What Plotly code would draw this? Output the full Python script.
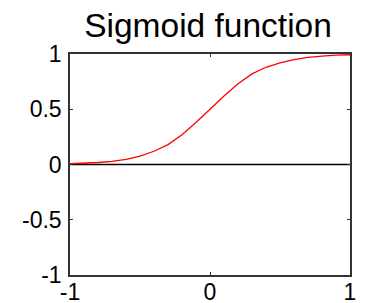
import plotly.graph_objects as go

# Data
x_vals = [-1.0, -0.9, -0.8, -0.7, -0.6, -0.5, -0.4, -0.3, -0.2, -0.1, 0.0,
          0.1, 0.2, 0.3, 0.4, 0.5, 0.6, 0.7, 0.8, 0.9, 1.0]
y_vals = [0.007, 0.011, 0.018, 0.029, 0.047, 0.076, 0.12, 0.18, 0.27, 0.38, 0.5,
          0.62, 0.73, 0.82, 0.88, 0.92, 0.95, 0.97, 0.98, 0.99, 0.993]
zero_x = [-1.0, 1.0]
zero_y = [0.0, 0.0]
x_ticks = [-1, 0, 1]
y_ticks = [-1, -0.5, 0, 0.5, 1]
y_tick_labels = ["-1", "-0.5", "0", "0.5", "1"]

FONT = "Liberation Sans, Arial, sans-serif"

fig = go.Figure()
fig.add_trace(go.Scatter(x=zero_x, y=zero_y, mode="lines",
                         line=dict(color="black", width=1.3), hoverinfo="skip"))
fig.add_trace(go.Scatter(x=x_vals, y=y_vals, mode="lines",
                         line=dict(color="#ff0000", width=1.3), hoverinfo="skip"))

# page body has an 8px margin, so the figure is offset by (8, 8)
fig.update_layout(
    width=357, height=295,
    margin=dict(l=62, r=15, t=46, b=28),
    paper_bgcolor="white", plot_bgcolor="white",
    showlegend=False,
    title=dict(text="Sigmoid function", x=0.493, xref="paper", xanchor="center",
               y=1 - 6 / 295, yref="container", yanchor="top",
               font=dict(family=FONT, size=33.5, color="black")),
    font=dict(family=FONT, color="black"),
)
fig.update_xaxes(range=[-1, 1], tickvals=x_ticks, ticktext=["-1", "0", "1"],
                 showgrid=False, zeroline=False, automargin=False,
                 showline=True, mirror="ticks", linecolor="#333", linewidth=1.5,
                 ticks="inside", ticklen=3, tickcolor="#333", ticklabelstandoff=-4,
                 tickfont=dict(family=FONT, size=23, color="black"))
fig.update_yaxes(range=[-1, 1], tickvals=y_ticks, ticktext=y_tick_labels,
                 showgrid=False, zeroline=False, automargin=False,
                 showline=True, mirror="ticks", linecolor="#333", linewidth=1.5,
                 ticks="inside", ticklen=3, tickcolor="#333", ticklabelstandoff=2,
                 tickfont=dict(family=FONT, size=23, color="black"))

fig.write_html("out.html")
